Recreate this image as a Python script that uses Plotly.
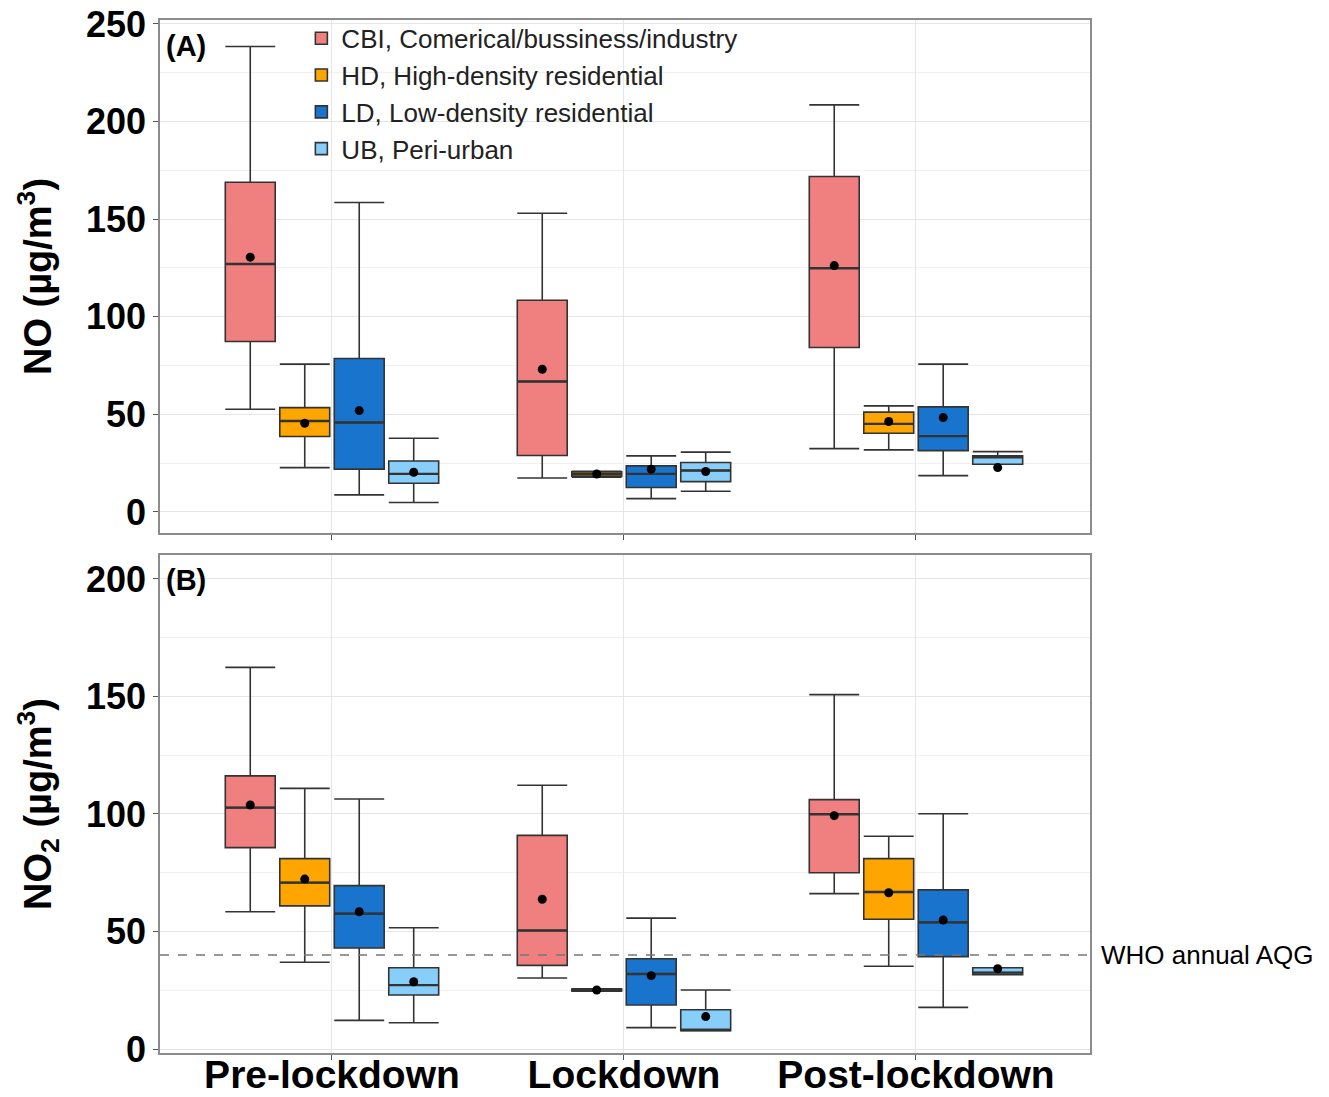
import plotly.graph_objects as go

periods = ["Pre-lockdown", "Lockdown", "Post-lockdown"]
series = ["CBI, Comerical/bussiness/industry", "HD, High-density residential",
          "LD, Low-density residential", "UB, Peri-urban"]
colors = ["#F08080", "#FFA500", "#1874CD", "#87CEFA"]

# Panel A: NO  (per series, values for Pre, Lockdown, Post)
no_lower = [[52.6, 17.4, 32.4], [22.7, 17.8, 31.8], [8.7, 6.8, 18.6], [4.8, 10.6, 24.4]]
no_q1 = [[87.3, 28.9, 84.2], [38.6, 18.3, 40.3], [21.9, 12.5, 31.4], [14.7, 15.5, 24.4]]
no_median = [[127.0, 66.8, 124.8], [46.6, 19.3, 45.1], [45.8, 19.5, 38.8], [19.5, 21.2, 28.0]]
no_q3 = [[168.9, 108.4, 171.8], [53.4, 20.5, 51.1], [78.6, 23.6, 53.8], [26.1, 25.3, 28.7]]
no_upper = [[238.4, 153.0, 208.5], [75.7, 20.8, 54.3], [158.5, 28.7, 75.7], [37.7, 30.6, 30.9]]
no_mean = [[130.5, 73.1, 126.2], [45.4, 19.4, 46.3], [51.9, 21.9, 48.3], [20.3, 20.7, 22.7]]

# Panel B: NO2
no2_lower = [[58.4, 30.2, 66.1], [36.9, 24.6, 35.2], [12.2, 9.1, 17.7], [11.2, 7.8, 31.6]]
no2_q1 = [[85.7, 35.6, 75.0], [60.9, 24.7, 55.2], [43.0, 18.7, 39.3], [23.0, 7.8, 31.6]]
no2_median = [[102.7, 50.4, 99.9], [70.8, 25.1, 66.8], [57.6, 31.9, 53.9], [27.2, 8.1, 32.5]]
no2_q3 = [[116.2, 90.9, 106.1], [81.0, 25.5, 81.0], [69.5, 38.4, 67.7], [34.6, 16.7, 34.6]]
no2_upper = [[162.4, 112.2, 150.8], [110.9, 25.6, 90.5], [106.4, 55.7, 100.1], [51.6, 25.1, 34.6]]
no2_mean = [[103.8, 63.7, 99.3], [72.3, 25.1, 66.5], [58.4, 31.2, 54.9], [28.6, 13.8, 34.2]]

WHO_AQG = 40
no_ticks = [0, 50, 100, 150, 200, 250]
no2_ticks = [0, 50, 100, 150, 200]

FONT = "Liberation Sans, Arial, sans-serif"
DODGE = 0.1866
BOXW = 0.171
EDGE = "#333333"

fig = go.Figure()

panels = [
    ("x", "y", no_lower, no_q1, no_median, no_q3, no_upper, no_mean, True),
    ("x2", "y2", no2_lower, no2_q1, no2_median, no2_q3, no2_upper, no2_mean, False),
]
# boxes with whiskers + caps
for xa, ya, lo, q1, me, q3, up, mn, show in panels:
    for j, name in enumerate(series):
        xs = [i + (j - 1.5) * DODGE for i in range(len(periods))]
        fig.add_trace(go.Box(
            x=xs, lowerfence=lo[j], q1=q1[j], median=me[j], q3=q3[j], upperfence=up[j],
            width=BOXW, whiskerwidth=1.0, fillcolor=colors[j],
            line=dict(color=EDGE, width=1.6), name=name, legendgroup=name,
            showlegend=show, xaxis=xa, yaxis=ya, boxpoints=False, hoverinfo="skip",
        ))
# thicker median bars (ggplot style)
for xa, ya, lo, q1, me, q3, up, mn, show in panels:
    for j, name in enumerate(series):
        xs = [i + (j - 1.5) * DODGE for i in range(len(periods))]
        fig.add_trace(go.Box(
            x=xs, lowerfence=me[j], q1=me[j], median=me[j], q3=me[j], upperfence=me[j],
            width=BOXW, whiskerwidth=0, fillcolor="rgba(0,0,0,0)",
            line=dict(color=EDGE, width=2.4), showlegend=False, legendgroup=name,
            xaxis=xa, yaxis=ya, boxpoints=False, hoverinfo="skip",
        ))
# means
for xa, ya, lo, q1, me, q3, up, mn, show in panels:
    for j, name in enumerate(series):
        xs = [i + (j - 1.5) * DODGE for i in range(len(periods))]
        fig.add_trace(go.Scatter(
            x=xs, y=mn[j], mode="markers", marker=dict(color="black", size=9),
            showlegend=False, xaxis=xa, yaxis=ya, hoverinfo="skip",
        ))

xcommon = dict(range=[-0.589, 2.596], tickvals=list(range(len(periods))), automargin=False,
               showgrid=True, gridcolor="#E6E6E6", gridwidth=1.2, zeroline=False,
               showline=True, linecolor="#8C8C8C", linewidth=1.5, mirror=True,
               ticks="outside", ticklen=5, tickcolor="#555555")
fig.update_layout(
    xaxis=dict(domain=[0, 1], anchor="y", showticklabels=False, **xcommon),
    xaxis2=dict(domain=[0, 1], anchor="y2", ticktext=periods, ticklabelstandoff=-19,
                tickfont=dict(size=39, family=FONT, color="black", weight="bold"), **xcommon),
)
ycommon = dict(showgrid=True, gridcolor="#E6E6E6", gridwidth=1.2, zeroline=False, automargin=False,
               showline=True, linecolor="#8C8C8C", linewidth=1.5, mirror=True,
               ticks="outside", ticklen=5, tickcolor="#555555",
               tickfont=dict(size=36, family=FONT, color="black", weight="bold"),
               minor=dict(dtick=25, showgrid=True, gridcolor="#F0F0F0", gridwidth=1))
fig.update_layout(
    yaxis=dict(domain=[0.5034, 1], anchor="x", range=[-10.8, 252.0], tickvals=no_ticks,
               title=dict(text="<b>NO (µg/m<sup>3</sup>)</b>", standoff=23,
                          font=dict(size=38, family=FONT, color="black")), **ycommon),
    yaxis2=dict(domain=[0, 0.4821], anchor="x2", range=[-1.7, 210.2], tickvals=no2_ticks,
                title=dict(text="<b>NO<sub>2</sub> (µg/m<sup>3</sup>)</b>", standoff=23,
                           font=dict(size=38, family=FONT, color="black")), **ycommon),
)

fig.add_shape(type="line", xref="x2 domain", yref="y2", x0=0, x1=1, y0=WHO_AQG, y1=WHO_AQG,
              line=dict(color="#777777", width=1.5, dash="dash"))
fig.add_annotation(xref="paper", yref="y2", x=1.01, y=WHO_AQG, text="WHO annual AQG",
                   showarrow=False, xanchor="left", yanchor="middle",
                   font=dict(size=26, family=FONT, color="black"))
fig.add_annotation(xref="x domain", yref="y domain", x=0.004, y=0.985, text="<b>(A)</b>",
                   showarrow=False, xanchor="left", yanchor="top",
                   font=dict(size=29, family=FONT, color="black"))
fig.add_annotation(xref="x2 domain", yref="y2 domain", x=0.004, y=0.985, text="<b>(B)</b>",
                   showarrow=False, xanchor="left", yanchor="top",
                   font=dict(size=29, family=FONT, color="black"))

fig.update_layout(
    width=1329, height=1097, margin=dict(l=160, r=239, t=20, b=44),
    paper_bgcolor="white", plot_bgcolor="white",
    legend=dict(x=0.152, y=1.005, xanchor="left", yanchor="top", bgcolor="rgba(0,0,0,0)",
                font=dict(size=26, family=FONT, color="#222222"), tracegroupgap=0,
                itemwidth=30),
    showlegend=True,
)

fig.write_html("out.html")
